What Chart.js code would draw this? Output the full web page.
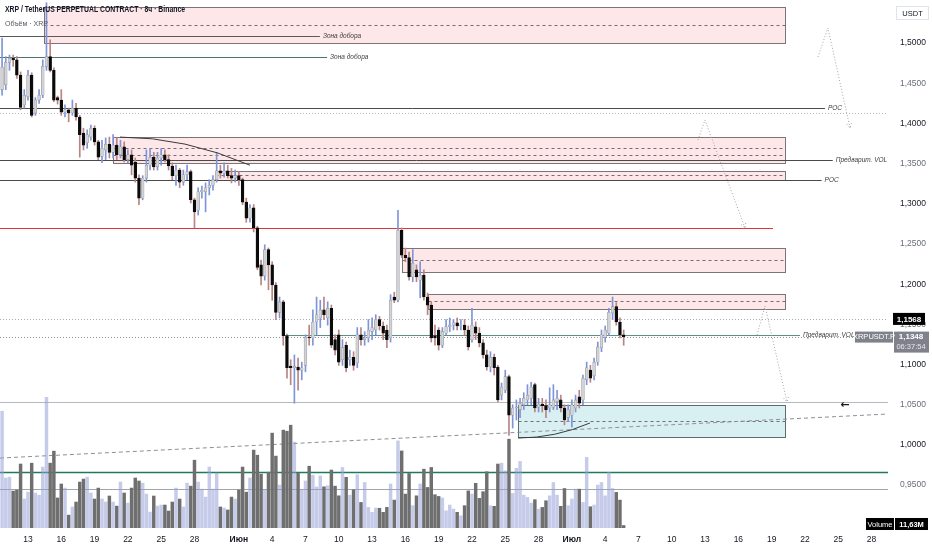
<!DOCTYPE html>
<html lang="ru">
<head>
<meta charset="utf-8">
<title>XRP / TetherUS PERPETUAL CONTRACT · 8ч · Binance</title>
<script src="https://cdn.jsdelivr.net/npm/chart.js@4.4.1/dist/chart.umd.min.js"></script>
<style>
  html, body { margin: 0; padding: 0; background: #fff; }
  #wrap { width: 932px; height: 550px; }
</style>
</head>
<body>
<div id="wrap"><canvas id="chart" width="932" height="550"></canvas></div>
<script>

// days are counted from 1 May 2025 (1 May = 0), one 8h candle = 1/3 day
const firstCandleDay = 9 + 16 / 24;   // 10 May, 16:00
const candleStep = 8 / 24;

const opens = [
  1.442, 1.448, 1.476, 1.481, 1.479, 1.460, 1.423, 1.433, 1.460, 1.413,
  1.429, 1.435, 1.471, 1.483, 1.466, 1.432, 1.429, 1.414, 1.417, 1.413,
  1.419, 1.408, 1.388, 1.376, 1.383, 1.394, 1.377, 1.359, 1.367, 1.374,
  1.364, 1.373, 1.361, 1.371, 1.355, 1.361, 1.352, 1.332, 1.307, 1.332,
  1.348, 1.358, 1.346, 1.357, 1.361, 1.355, 1.347, 1.335, 1.342, 1.327,
  1.336, 1.340, 1.305, 1.292, 1.315, 1.315, 1.320, 1.323, 1.330, 1.341,
  1.338, 1.341, 1.335, 1.332, 1.335, 1.330, 1.302, 1.282, 1.295, 1.270,
  1.224, 1.210, 1.243, 1.224, 1.199, 1.165, 1.178, 1.136, 1.098, 1.096,
  1.097, 1.093, 1.099, 1.134, 1.133, 1.153, 1.158, 1.168, 1.158, 1.170,
  1.131, 1.137, 1.106, 1.124, 1.106, 1.109, 1.102, 1.137, 1.131, 1.133,
  1.141, 1.143, 1.156, 1.148, 1.143, 1.133, 1.184, 1.180, 1.267, 1.236,
  1.233, 1.209, 1.218, 1.205, 1.211, 1.184, 1.174, 1.136, 1.143, 1.124,
  1.139, 1.147, 1.149, 1.152, 1.148, 1.149, 1.143, 1.131, 1.147, 1.139,
  1.127, 1.112, 1.097, 1.109, 1.097, 1.062, 1.068, 1.085, 1.037, 1.046,
  1.044, 1.050, 1.056, 1.058, 1.075, 1.047, 1.051, 1.049, 1.046, 1.047,
  1.054, 1.056, 1.046, 1.034, 1.037, 1.046, 1.060, 1.056, 1.081, 1.093,
  1.086, 1.103, 1.121, 1.134, 1.139, 1.164, 1.172, 1.153, 1.137
];
const highs = [
  1.506, 1.483, 1.485, 1.485, 1.483, 1.464, 1.442, 1.466, 1.463, 1.432,
  1.442, 1.479, 1.550, 1.504, 1.469, 1.434, 1.442, 1.423, 1.419, 1.429,
  1.425, 1.410, 1.394, 1.392, 1.398, 1.397, 1.379, 1.379, 1.382, 1.383,
  1.386, 1.382, 1.379, 1.377, 1.367, 1.367, 1.357, 1.336, 1.335, 1.367,
  1.369, 1.364, 1.364, 1.369, 1.367, 1.361, 1.351, 1.348, 1.344, 1.342,
  1.348, 1.342, 1.307, 1.320, 1.322, 1.326, 1.330, 1.335, 1.364, 1.348,
  1.351, 1.348, 1.344, 1.342, 1.340, 1.332, 1.307, 1.299, 1.299, 1.272,
  1.230, 1.249, 1.245, 1.228, 1.202, 1.184, 1.180, 1.138, 1.106, 1.112,
  1.108, 1.103, 1.137, 1.149, 1.168, 1.184, 1.180, 1.184, 1.178, 1.174,
  1.137, 1.143, 1.131, 1.128, 1.118, 1.116, 1.146, 1.146, 1.141, 1.156,
  1.158, 1.162, 1.160, 1.153, 1.149, 1.187, 1.190, 1.292, 1.270, 1.245,
  1.240, 1.243, 1.224, 1.228, 1.218, 1.189, 1.178, 1.149, 1.146, 1.146,
  1.156, 1.158, 1.156, 1.158, 1.156, 1.156, 1.148, 1.170, 1.153, 1.146,
  1.131, 1.118, 1.116, 1.113, 1.099, 1.077, 1.093, 1.087, 1.050, 1.056,
  1.058, 1.065, 1.075, 1.078, 1.077, 1.058, 1.058, 1.056, 1.071, 1.075,
  1.068, 1.062, 1.050, 1.050, 1.056, 1.062, 1.068, 1.087, 1.103, 1.099,
  1.108, 1.128, 1.143, 1.148, 1.170, 1.184, 1.177, 1.158, 1.143
];
const lows = [
  1.435, 1.442, 1.466, 1.471, 1.456, 1.417, 1.419, 1.429, 1.408, 1.410,
  1.425, 1.432, 1.466, 1.464, 1.427, 1.424, 1.410, 1.408, 1.402, 1.410,
  1.404, 1.358, 1.367, 1.369, 1.379, 1.373, 1.355, 1.351, 1.355, 1.357,
  1.357, 1.355, 1.357, 1.352, 1.351, 1.336, 1.327, 1.299, 1.305, 1.327,
  1.342, 1.342, 1.342, 1.348, 1.352, 1.342, 1.330, 1.323, 1.320, 1.323,
  1.330, 1.301, 1.270, 1.286, 1.307, 1.290, 1.311, 1.317, 1.327, 1.332,
  1.333, 1.332, 1.326, 1.327, 1.323, 1.299, 1.277, 1.277, 1.265, 1.218,
  1.199, 1.205, 1.193, 1.180, 1.156, 1.158, 1.124, 1.083, 1.075, 1.052,
  1.068, 1.081, 1.091, 1.124, 1.124, 1.137, 1.146, 1.156, 1.149, 1.121,
  1.112, 1.099, 1.099, 1.091, 1.099, 1.093, 1.096, 1.124, 1.124, 1.128,
  1.131, 1.137, 1.143, 1.131, 1.121, 1.128, 1.177, 1.178, 1.233, 1.228,
  1.205, 1.203, 1.203, 1.183, 1.180, 1.162, 1.128, 1.124, 1.118, 1.121,
  1.137, 1.141, 1.143, 1.143, 1.143, 1.137, 1.118, 1.128, 1.131, 1.122,
  1.108, 1.093, 1.091, 1.087, 1.054, 1.056, 1.065, 1.012, 1.021, 1.031,
  1.034, 1.044, 1.050, 1.050, 1.041, 1.041, 1.041, 1.034, 1.041, 1.044,
  1.044, 1.041, 1.025, 1.029, 1.022, 1.041, 1.046, 1.050, 1.075, 1.078,
  1.081, 1.099, 1.116, 1.128, 1.136, 1.156, 1.149, 1.133, 1.124
];
const closes = [
  1.470, 1.476, 1.481, 1.479, 1.460, 1.420, 1.435, 1.460, 1.410, 1.429,
  1.435, 1.471, 1.483, 1.466, 1.429, 1.429, 1.414, 1.417, 1.413, 1.419,
  1.408, 1.386, 1.373, 1.386, 1.394, 1.377, 1.358, 1.369, 1.374, 1.364,
  1.373, 1.361, 1.371, 1.355, 1.361, 1.348, 1.332, 1.307, 1.332, 1.348,
  1.358, 1.346, 1.357, 1.361, 1.355, 1.347, 1.335, 1.342, 1.327, 1.336,
  1.340, 1.305, 1.290, 1.315, 1.317, 1.320, 1.323, 1.330, 1.341, 1.338,
  1.341, 1.335, 1.332, 1.335, 1.330, 1.302, 1.282, 1.295, 1.270, 1.221,
  1.210, 1.243, 1.224, 1.199, 1.165, 1.178, 1.136, 1.096, 1.096, 1.098,
  1.093, 1.096, 1.134, 1.133, 1.153, 1.162, 1.168, 1.162, 1.170, 1.124,
  1.118, 1.103, 1.121, 1.096, 1.109, 1.099, 1.137, 1.131, 1.133, 1.143,
  1.146, 1.156, 1.148, 1.139, 1.131, 1.180, 1.180, 1.267, 1.236, 1.233,
  1.209, 1.226, 1.209, 1.211, 1.184, 1.174, 1.133, 1.133, 1.124, 1.141,
  1.147, 1.149, 1.152, 1.148, 1.149, 1.143, 1.122, 1.149, 1.139, 1.127,
  1.112, 1.097, 1.109, 1.096, 1.056, 1.072, 1.085, 1.037, 1.046, 1.047,
  1.052, 1.058, 1.062, 1.072, 1.046, 1.051, 1.049, 1.044, 1.050, 1.056,
  1.058, 1.046, 1.031, 1.044, 1.050, 1.056, 1.052, 1.083, 1.096, 1.083,
  1.103, 1.122, 1.137, 1.143, 1.165, 1.172, 1.153, 1.137, 1.1348
];
// volume, millions of XRP
const volumes = [
  544, 233, 237, 172, 177, 298, 135, 167, 302, 163,
  153, 284, 609, 302, 358, 140, 205, 186, 60, 98,
  121, 214, 228, 237, 163, 135, 186, 135, 121, 149,
  121, 102, 214, 163, 116, 186, 233, 219, 209, 158,
  74, 149, 102, 107, 107, 79, 121, 186, 135, 98,
  209, 195, 316, 214, 181, 144, 284, 181, 256, 98,
  93, 84, 144, 135, 177, 284, 167, 233, 363, 339,
  251, 177, 260, 442, 335, 200, 456, 451, 479, 400,
  256, 177, 219, 288, 246, 191, 243, 192, 197, 270,
  195, 150, 282, 236, 153, 178, 248, 119, 212, 96,
  73, 93, 92, 73, 96, 205, 130, 406, 359, 158,
  254, 104, 150, 205, 274, 189, 282, 155, 147, 140,
  80, 107, 88, 73, 57, 104, 173, 158, 208, 138,
  169, 262, 104, 101, 298, 302, 266, 414, 161, 278,
  310, 153, 143, 116, 132, 88, 96, 127, 150, 212,
  153, 101, 184, 104, 135, 181, 181, 119, 329, 99,
  107, 200, 212, 150, 259, 184, 166, 130, 11.63
];

const tickDays   = [12, 15, 18, 21, 24, 27, 31, 34, 37, 40, 43, 46, 49, 52, 55, 58,
                    61, 64, 67, 70, 73, 76, 79, 82, 85, 88];
const tickLabels = ['13', '16', '19', '22', '25', '28', 'Июн', '4', '7', '10', '13', '16', '19', '22', '25', '28',
                    'Июл', '4', '7', '10', '13', '16', '19', '22', '25', '28'];
const priceTicks = [0.95, 1.0, 1.05, 1.1, 1.15, 1.2, 1.25, 1.3, 1.35, 1.4, 1.45, 1.5];

// drawn zones (days / prices)
const zoneFrom = [13.45, 19.65, 28.85, 45.7, 48.05, 56.15];
const zoneTo   = [80.2, 80.2, 80.2, 80.2, 80.2, 80.2];
const zoneTop  = [1.5448, 1.3831, 1.3408, 1.2450, 1.1878, 1.0497];
const zoneBot  = [1.5000, 1.3507, 1.3296, 1.2151, 1.1691, 1.0099];
const zoneMids = [[1.5224], [1.3694, 1.3607], [1.3352], [1.2301], [1.1791], [1.0298]];
const zoneKind = ['sell', 'sell', 'sell', 'sell', 'sell', 'buy'];

// horizontal levels
const levelPrice = [1.5087, 1.4826, 1.4191, 1.3545, 1.3296, 1.2699, 1.1368, 1.0535, 0.9660, 0.9450];
const levelFrom  = [9.48, 9.48, 9.48, 9.48, 9.48, 9.48, 35.16, 9.48, 9.48, 9.48];
const levelTo    = [38.3, 38.95, 83.8, 84.5, 83.5, 79.12, 81.55, 89.5, 89.5, 89.5];
const levelText  = ['Зона добора', 'Зона добора', 'POC', 'Предварит. VOL', 'POC', '', 'Предварит. VOL', '', '', ''];
const levelColor = ['#5a5a5a', '#4d7468', '#4a4a4a', '#4a4a4a', '#4a4a4a', '#e0333c', '#5d8f86', '#b7b9c0', '#1f7a5c', '#a2a5ad'];
const levelWidth = [1, 1, 1, 1, 1, 1.2, 1.2, 1.2, 1.6, 1];

const dottedPrices = [1.4129, 1.1568, 1.1348];
const dottedColors = ['#b8bac2', '#a9abb3', '#8f929a'];

const trendDays   = [9.48, 89.5];
const trendPrices = [0.9837, 1.0385];

// curved marks: start, control, end (day, price)
const arcPoints = [
  [20.29, 1.383, 26.15, 1.383, 32.0, 1.348],
  [56.15, 1.0086, 59.48, 1.0086, 62.63, 1.0273]
];

// dotted forecast paths
const pathDays   = [[72.36, 72.99, 76.6], [77.68, 78.4, 80.38], [83.17, 84.07, 86.06]];
const pathPrices = [[1.3794, 1.4042, 1.2699], [1.1368, 1.1728, 1.0535], [1.4826, 1.5187, 1.3943]];

const lastPrice = 1.1348;
const alertPrice = 1.1568;

const candleDays = opens.map((o, i) => firstCandleDay + i * candleStep);
const isUp = opens.map((o, i) => closes[i] >= o);

const fmtPrice = v => v.toFixed(4).replace('.', ',');
const FONT = '"Liberation Sans", Arial, sans-serif';

// draws text squeezed to a given width (TradingView's header font is narrower)
function fitText(ctx, text, x, y, width) {
  const w = ctx.measureText(text).width;
  ctx.save();
  ctx.translate(x, y);
  ctx.scale(Math.min(1, width / w), 1);
  ctx.fillText(text, 0, 0);
  ctx.restore();
}

const overlay = {
  id: 'overlay',
  beforeDatasetsDraw(chart) {
    const { ctx, chartArea: a, scales: { x, y } } = chart;
    const X = d => x.getPixelForValue(d);
    const Y = p => y.getPixelForValue(p);
    ctx.save();
    ctx.beginPath();
    ctx.rect(a.left, a.top, a.right - a.left, a.bottom - a.top);
    ctx.clip();

    // zones
    zoneFrom.forEach((d0, i) => {
      const x0 = Math.round(X(d0)) + 0.5, x1 = Math.round(X(zoneTo[i])) + 0.5;
      const y0 = Math.round(Y(zoneTop[i])) + 0.5, y1 = Math.round(Y(zoneBot[i])) + 0.5;
      ctx.fillStyle = zoneKind[i] === 'buy' ? 'rgba(0,151,167,0.15)' : 'rgba(242,54,69,0.12)';
      ctx.fillRect(x0, y0, x1 - x0, y1 - y0);
      ctx.strokeStyle = zoneKind[i] === 'buy' ? '#5c6b6c' : '#7d7475';
      ctx.lineWidth = 1;
      ctx.setLineDash([]);
      ctx.strokeRect(x0, y0, x1 - x0, y1 - y0);
      ctx.strokeStyle = '#6f6f74';
      ctx.setLineDash([3, 3]);
      zoneMids[i].forEach(p => {
        const ym = Math.round(Y(p)) + 0.5;
        ctx.beginPath(); ctx.moveTo(x0, ym); ctx.lineTo(x1, ym); ctx.stroke();
      });
    });

    // dotted full-width levels
    ctx.lineWidth = 1;
    ctx.setLineDash([1, 2]);
    dottedPrices.forEach((p, i) => {
      const yy = Math.round(Y(p)) + 0.5;
      ctx.strokeStyle = dottedColors[i];
      ctx.beginPath(); ctx.moveTo(a.left, yy); ctx.lineTo(a.right, yy); ctx.stroke();
    });

    // slanted dashed line
    ctx.strokeStyle = '#8c8f96';
    ctx.setLineDash([4, 3]);
    ctx.beginPath();
    ctx.moveTo(X(trendDays[0]), Y(trendPrices[0]));
    ctx.lineTo(X(trendDays[1]), Y(trendPrices[1]));
    ctx.stroke();

    // solid levels
    ctx.setLineDash([]);
    levelPrice.forEach((p, i) => {
      const yy = Math.round(Y(p)) + 0.5;
      ctx.strokeStyle = levelColor[i];
      ctx.lineWidth = levelWidth[i];
      ctx.beginPath(); ctx.moveTo(X(levelFrom[i]), yy); ctx.lineTo(X(levelTo[i]), yy); ctx.stroke();
    });
    ctx.restore();
  },
  afterDatasetsDraw(chart) {
    const { ctx, scales: { x, y } } = chart;
    const X = d => x.getPixelForValue(d);
    const Y = p => y.getPixelForValue(p);
    ctx.save();

    // level captions
    ctx.font = 'italic 6.5px ' + FONT;
    ctx.fillStyle = '#3c3c3c';
    ctx.textBaseline = 'middle';
    ctx.textAlign = 'left';
    levelText.forEach((t, i) => {
      if (t) ctx.fillText(t, X(levelTo[i]) + 3, Y(levelPrice[i]));
    });

    // arcs
    ctx.strokeStyle = '#3a3a3a';
    ctx.lineWidth = 1;
    arcPoints.forEach(c => {
      ctx.beginPath();
      ctx.moveTo(X(c[0]), Y(c[1]));
      ctx.quadraticCurveTo(X(c[2]), Y(c[3]), X(c[4]), Y(c[5]));
      ctx.stroke();
    });

    // dotted forecast paths
    ctx.strokeStyle = '#a0a3aa';
    ctx.setLineDash([1, 2]);
    pathDays.forEach((ds, k) => {
      ctx.beginPath();
      ds.forEach((d, j) => {
        const px = X(d), py = Y(pathPrices[k][j]);
        if (j === 0) ctx.moveTo(px, py); else ctx.lineTo(px, py);
      });
      ctx.stroke();
      const n = ds.length;
      const ex = X(ds[n - 1]), ey = Y(pathPrices[k][n - 1]);
      const ang = Math.atan2(ey - Y(pathPrices[k][n - 2]), ex - X(ds[n - 2]));
      ctx.beginPath();
      ctx.moveTo(ex - 5 * Math.cos(ang - 0.5), ey - 5 * Math.sin(ang - 0.5));
      ctx.lineTo(ex, ey);
      ctx.lineTo(ex - 5 * Math.cos(ang + 0.5), ey - 5 * Math.sin(ang + 0.5));
      ctx.stroke();
    });
    ctx.setLineDash([]);

    // arrow mark
    ctx.fillStyle = '#1a1a1a';
    ctx.font = 'bold 11px "DejaVu Sans", sans-serif';
    ctx.textAlign = 'center';
    ctx.fillText('←', X(85.6), Y(1.0497));

    // price tags on the axis
    const ay = Y(alertPrice);
    ctx.fillStyle = '#000000';
    ctx.fillRect(893, ay - 6, 32, 12);
    ctx.fillStyle = '#ffffff';
    ctx.font = 'bold 8px ' + FONT;
    ctx.fillText(fmtPrice(alertPrice), 909, ay + 0.5);

    const ly = Y(lastPrice);
    ctx.fillStyle = '#7f828a';
    ctx.fillRect(855, ly - 5, 38, 11);
    ctx.fillRect(894, ly - 5, 35, 21);
    ctx.fillStyle = '#ffffff';
    ctx.font = '7.5px ' + FONT;
    ctx.fillText('XRPUSDT.P', 874, ly + 0.5);
    ctx.font = 'bold 8px ' + FONT;
    ctx.fillText(fmtPrice(lastPrice), 911, ly + 0.5);
    ctx.font = '7.5px ' + FONT;
    ctx.fillStyle = '#e6e7ea';
    ctx.fillText('06:37:54', 911, ly + 10.5);

    // volume tag
    ctx.fillStyle = '#000000';
    ctx.fillRect(866, 518, 28, 12);
    ctx.fillRect(895, 518, 33, 12);
    ctx.fillStyle = '#ffffff';
    ctx.font = '7.5px ' + FONT;
    ctx.fillText('Volume', 880, 524.5);
    ctx.font = 'bold 7.5px ' + FONT;
    ctx.fillText(volumes[volumes.length - 1].toFixed(2).replace('.', ',') + 'M', 911.5, 524.5);

    // currency box
    ctx.strokeStyle = '#e0e3eb';
    ctx.strokeRect(896.5, 6.5, 32, 13);
    ctx.fillStyle = '#131722';
    ctx.font = '7.5px ' + FONT;
    ctx.fillText('USDT', 912.5, 13.5);

    // title
    ctx.textAlign = 'left';
    ctx.fillStyle = '#131722';
    ctx.font = 'bold 8.5px ' + FONT;
    fitText(ctx, 'XRP / TetherUS PERPETUAL CONTRACT · 8ч · Binance', 5, 10, 180);
    ctx.fillStyle = '#555860';
    ctx.font = '8px ' + FONT;
    fitText(ctx, 'Объём · XRP', 5, 24, 43);
    ctx.restore();
  }
};

new Chart(document.getElementById('chart'), {
  type: 'bar',
  data: {
    datasets: [
      {
        label: 'Тело свечи',
        data: candleDays.map((d, i) => ({ x: d, y: [opens[i], closes[i]] })),
        backgroundColor: isUp.map(u => u ? '#d2d3d6' : '#0a0a0a'),
        borderColor: isUp.map(u => u ? '#98999e' : '#0a0a0a'),
        borderWidth: 0.6,
        borderSkipped: false,
        barThickness: 2.8,
        minBarLength: 1,
        grouped: false,
        order: 1
      },
      {
        label: 'Тени',
        data: candleDays.map((d, i) => ({ x: d, y: [lows[i], highs[i]] })),
        backgroundColor: isUp.map(u => u ? '#7f95d9' : '#b98484'),
        barThickness: 1,
        grouped: false,
        order: 2
      },
      {
        label: 'Объём',
        yAxisID: 'yv',
        data: candleDays.map((d, i) => ({ x: d, y: volumes[i] })),
        backgroundColor: isUp.map(u => u ? 'rgba(150,160,215,0.55)' : '#6f6f6f'),
        barThickness: 2.8,
        grouped: false,
        order: 3
      }
    ]
  },
  options: {
    responsive: false,
    animation: false,
    layout: { padding: 0, autoPadding: false },
    plugins: { legend: { display: false }, tooltip: { enabled: false } },
    scales: {
      x: {
        type: 'linear',
        min: 9.48,
        max: 89.48,
        offset: false,
        grid: { display: false, drawTicks: false },
        border: { display: false },
        afterBuildTicks: s => { s.ticks = tickDays.map(v => ({ value: v })); },
        afterFit: s => { s.height = 22; s.paddingLeft = 0; s.paddingRight = 0; },
        ticks: {
          autoSkip: false,
          maxRotation: 0,
          padding: 7,
          color: '#131722',
          font: c => {
            const k = tickDays.indexOf(c.tick ? c.tick.value : -1);
            const month = k >= 0 && isNaN(Number(tickLabels[k]));
            return { family: FONT, size: 8.5, weight: month ? 'bold' : 'normal' };
          },
          callback: v => {
            const k = tickDays.indexOf(v);
            return k >= 0 ? tickLabels[k] : '';
          }
        }
      },
      y: {
        position: 'right',
        min: 0.8967,
        max: 1.5535,
        grid: { display: false, drawTicks: false },
        border: { display: false },
        afterBuildTicks: s => { s.ticks = priceTicks.map(v => ({ value: v })); },
        afterFit: s => { s.width = 44; s.paddingTop = 0; s.paddingBottom = 0; },
        ticks: {
          padding: 12,
          font: { family: FONT, size: 8.5 },
          color: c => (Math.round(c.tick.value * 100) % 10 === 0 ? '#131722' : '#6a6d78'),
          callback: v => fmtPrice(v)
        }
      },
      yv: {
        display: false,
        min: 0,
        max: 2460
      }
    }
  },
  plugins: [overlay]
});
</script>
</body>
</html>
